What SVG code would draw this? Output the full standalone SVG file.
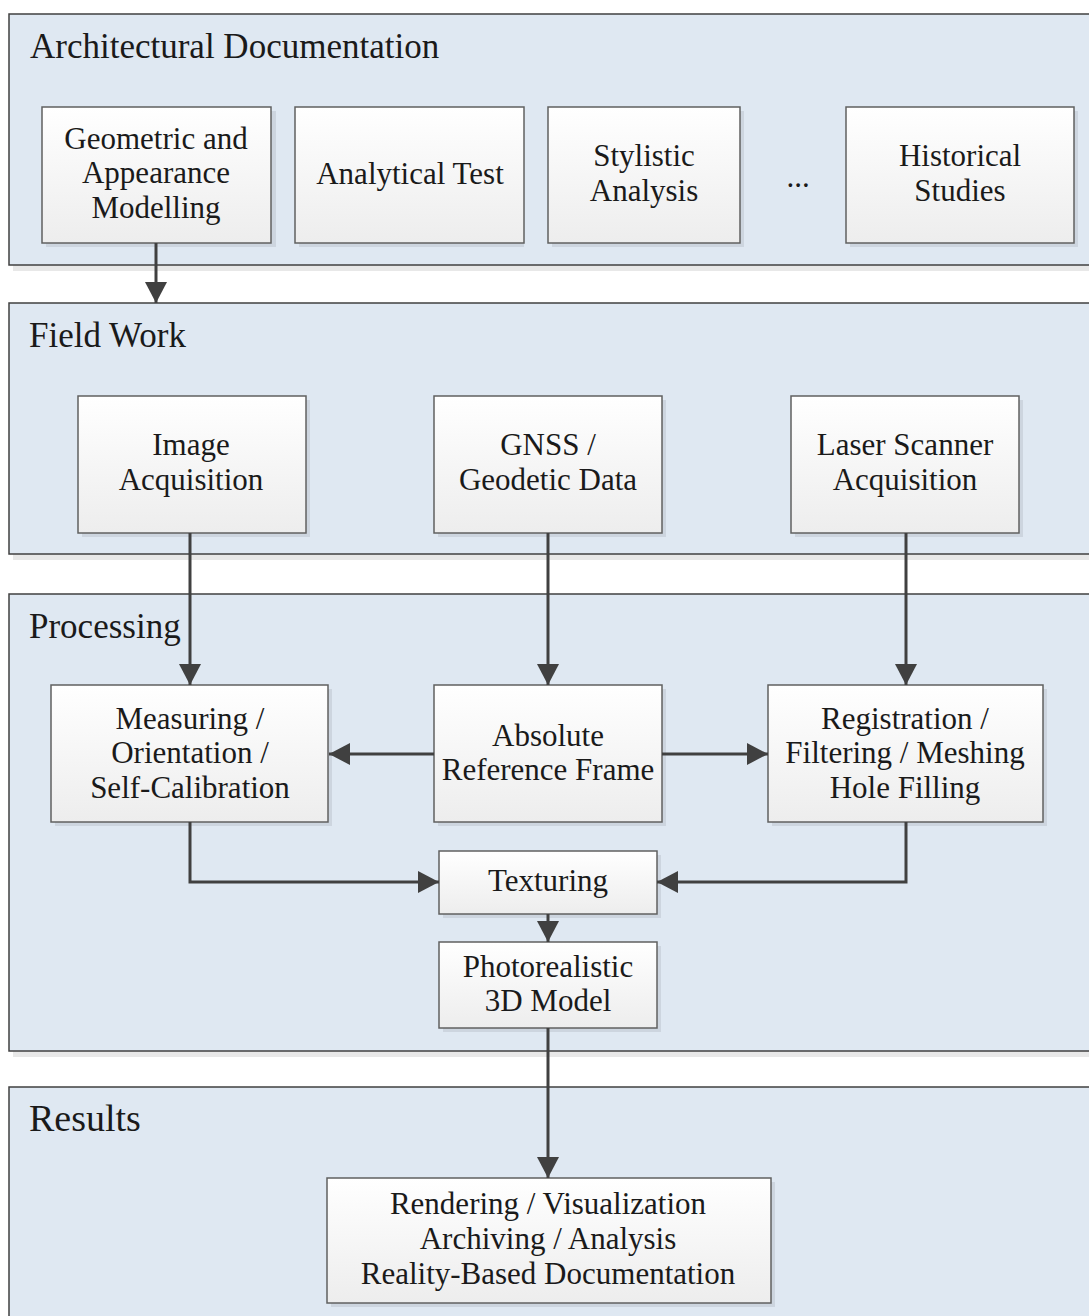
<svg xmlns="http://www.w3.org/2000/svg" width="1089" height="1316" viewBox="0 0 1089 1316">
<defs>
  <linearGradient id="boxg" x1="0" y1="0" x2="0" y2="1">
    <stop offset="0" stop-color="#ffffff"/>
    <stop offset="1" stop-color="#ededed"/>
  </linearGradient>
  <marker id="arr" markerUnits="userSpaceOnUse" markerWidth="22" markerHeight="22" refX="21" refY="11" orient="auto">
    <path d="M0,0 L21,11 L0,22 z" fill="#404040"/>
  </marker>
</defs>
<style>
  .panel { fill: #dfe8f2; stroke: #404040; stroke-width: 1.5; }
  .pshadow { fill: #000; opacity: 0.09; }
  .box { fill: url(#boxg); stroke: #606060; stroke-width: 1.5; }
  .bshadow { fill: #000; opacity: 0.08; }
  .title { font-family: "Liberation Serif", serif; font-size: 35px; fill: #1a1a1a; }
  .t { font-family: "Liberation Serif", serif; font-size: 31px; fill: #1a1a1a; text-anchor: middle; }
  .conn { fill: none; stroke: #404040; stroke-width: 3; marker-end: url(#arr); }
</style>
<rect width="1089" height="1316" fill="#ffffff"/>

<g id="panel-architectural">
  <rect class="pshadow" x="13" y="265" width="1090" height="6"/>
  <rect class="panel" x="9" y="14" width="1090" height="251"/>
  <text class="title" x="30" y="58">Architectural Documentation</text>
</g>
<g id="panel-fieldwork">
  <rect class="pshadow" x="13" y="554" width="1090" height="6"/>
  <rect class="panel" x="9" y="303" width="1090" height="251"/>
  <text class="title" x="29" y="347">Field Work</text>
</g>
<g id="panel-processing">
  <rect class="pshadow" x="13" y="1051" width="1090" height="6"/>
  <rect class="panel" x="9" y="594" width="1090" height="457"/>
  <text class="title" x="29" y="638">Processing</text>
</g>
<g id="panel-results">
  <rect class="panel" x="9" y="1087" width="1090" height="240"/>
  <text class="title" x="29" y="1131" style="font-size:38px">Results</text>
</g>

<g id="node-geometric">
  <rect class="bshadow" x="46" y="111" width="230" height="136"/>
  <rect class="box" x="42" y="107" width="229" height="136"/>
  <text class="t" x="156" y="149">Geometric and</text>
  <text class="t" x="156" y="183">Appearance</text>
  <text class="t" x="156" y="218">Modelling</text>
</g>
<g id="node-analytical">
  <rect class="bshadow" x="299" y="111" width="225" height="136"/>
  <rect class="box" x="295" y="107" width="229" height="136"/>
  <text class="t" x="410" y="184">Analytical Test</text>
</g>
<g id="node-stylistic">
  <rect class="bshadow" x="552" y="111" width="192" height="136"/>
  <rect class="box" x="548" y="107" width="192" height="136"/>
  <text class="t" x="644" y="166">Stylistic</text>
  <text class="t" x="644" y="201">Analysis</text>
</g>
<g id="node-ellipsis">
  <text class="t" x="798" y="187">...</text>
</g>
<g id="node-historical">
  <rect class="bshadow" x="850" y="111" width="228" height="136"/>
  <rect class="box" x="846" y="107" width="228" height="136"/>
  <text class="t" x="960" y="166">Historical</text>
  <text class="t" x="960" y="201">Studies</text>
</g>

<g id="node-image">
  <rect class="bshadow" x="82" y="400" width="228" height="137"/>
  <rect class="box" x="78" y="396" width="228" height="137"/>
  <text class="t" x="191" y="455">Image</text>
  <text class="t" x="191" y="490">Acquisition</text>
</g>
<g id="node-gnss">
  <rect class="bshadow" x="438" y="400" width="228" height="137"/>
  <rect class="box" x="434" y="396" width="228" height="137"/>
  <text class="t" x="548" y="455">GNSS /</text>
  <text class="t" x="548" y="490">Geodetic Data</text>
</g>
<g id="node-laser">
  <rect class="bshadow" x="795" y="400" width="228" height="137"/>
  <rect class="box" x="791" y="396" width="228" height="137"/>
  <text class="t" x="905" y="455">Laser Scanner</text>
  <text class="t" x="905" y="490">Acquisition</text>
</g>

<g id="node-measuring">
  <rect class="bshadow" x="55" y="689" width="277" height="137"/>
  <rect class="box" x="51" y="685" width="277" height="137"/>
  <text class="t" x="190" y="729">Measuring /</text>
  <text class="t" x="190" y="763">Orientation /</text>
  <text class="t" x="190" y="798">Self-Calibration</text>
</g>
<g id="node-absolute">
  <rect class="bshadow" x="438" y="689" width="228" height="137"/>
  <rect class="box" x="434" y="685" width="228" height="137"/>
  <text class="t" x="548" y="746">Absolute</text>
  <text class="t" x="548" y="780">Reference Frame</text>
</g>
<g id="node-registration">
  <rect class="bshadow" x="772" y="689" width="275" height="137"/>
  <rect class="box" x="768" y="685" width="275" height="137"/>
  <text class="t" x="905" y="729">Registration /</text>
  <text class="t" x="905" y="763">Filtering / Meshing</text>
  <text class="t" x="905" y="798">Hole Filling</text>
</g>
<g id="node-texturing">
  <rect class="bshadow" x="443" y="855" width="218" height="63"/>
  <rect class="box" x="439" y="851" width="218" height="63"/>
  <text class="t" x="548" y="891">Texturing</text>
</g>
<g id="node-photorealistic">
  <rect class="bshadow" x="443" y="946" width="218" height="86"/>
  <rect class="box" x="439" y="942" width="218" height="86"/>
  <text class="t" x="548" y="977">Photorealistic</text>
  <text class="t" x="548" y="1011">3D Model</text>
</g>

<g id="node-results">
  <rect class="bshadow" x="331" y="1182" width="444" height="125"/>
  <rect class="box" x="327" y="1178" width="444" height="125"/>
  <text class="t" x="548" y="1214">Rendering / Visualization</text>
  <text class="t" x="548" y="1249">Archiving / Analysis</text>
  <text class="t" x="548" y="1284">Reality-Based Documentation</text>
</g>

<g id="connectors">
  <path class="conn" d="M156,243 V303"/>
  <path class="conn" d="M190,533 V685"/>
  <path class="conn" d="M548,533 V685"/>
  <path class="conn" d="M906,533 V685"/>
  <path class="conn" d="M434,754 H329"/>
  <path class="conn" d="M662,754 H768"/>
  <path class="conn" d="M190,822 V882 H439"/>
  <path class="conn" d="M906,822 V882 H657"/>
  <path class="conn" d="M548,914 V942"/>
  <path class="conn" d="M548,1028 V1178"/>
</g>
</svg>
